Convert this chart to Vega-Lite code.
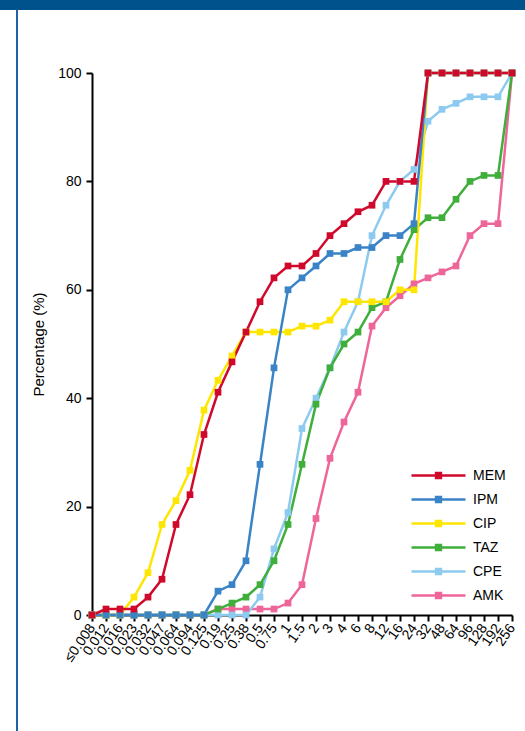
{
 "$schema": "https://vega.github.io/schema/vega-lite/v6.json",
 "padding": 0,
 "background": "white",
 "spacing": 0,
 "config": {"view": {"stroke": null}, "font": "Liberation Sans"},
 "vconcat": [
  {"width": 525, "height": 10, "view": {"fill": "#00528c", "stroke": null}, "data": {"values": []}, "mark": "rect"},
  {"spacing": 0, "hconcat": [
   {"width": 16, "height": 725, "data": {"values": []}, "mark": "rect"},
   {"width": 2, "height": 725, "view": {"fill": "#1f63a6", "stroke": null}, "data": {"values": []}, "mark": "rect"},
   {"width": 12.5, "height": 725, "data": {"values": []}, "mark": "rect"},
   {"spacing": 0, "vconcat": [
    {"width": 1, "height": 56, "data": {"values": []}, "mark": "rect"},
    {
     "width": 420, "height": 542,
     "data": {"values": [
{"c":"≤0.008","s":"AMK","v":0},{"c":"0.012","s":"AMK","v":0},{"c":"0.016","s":"AMK","v":0},{"c":"0.023","s":"AMK","v":0},{"c":"0.032","s":"AMK","v":0},{"c":"0.047","s":"AMK","v":0},{"c":"0.064","s":"AMK","v":0},{"c":"0.094","s":"AMK","v":0},{"c":"0.125","s":"AMK","v":0},{"c":"0.19","s":"AMK","v":1.1},{"c":"0.25","s":"AMK","v":1.1},{"c":"0.38","s":"AMK","v":1.1},{"c":"0.5","s":"AMK","v":1.1},{"c":"0.75","s":"AMK","v":1.1},{"c":"1","s":"AMK","v":2.2},{"c":"1.5","s":"AMK","v":5.6},{"c":"2","s":"AMK","v":17.8},{"c":"3","s":"AMK","v":28.9},{"c":"4","s":"AMK","v":35.6},{"c":"6","s":"AMK","v":41.1},{"c":"8","s":"AMK","v":53.3},{"c":"12","s":"AMK","v":56.7},{"c":"16","s":"AMK","v":58.9},{"c":"24","s":"AMK","v":61.1},{"c":"32","s":"AMK","v":62.2},{"c":"48","s":"AMK","v":63.3},{"c":"64","s":"AMK","v":64.4},{"c":"96","s":"AMK","v":70},{"c":"128","s":"AMK","v":72.2},{"c":"192","s":"AMK","v":72.2},{"c":"256","s":"AMK","v":100},
{"c":"≤0.008","s":"CPE","v":0},{"c":"0.012","s":"CPE","v":0},{"c":"0.016","s":"CPE","v":0},{"c":"0.023","s":"CPE","v":0},{"c":"0.032","s":"CPE","v":0},{"c":"0.047","s":"CPE","v":0},{"c":"0.064","s":"CPE","v":0},{"c":"0.094","s":"CPE","v":0},{"c":"0.125","s":"CPE","v":0},{"c":"0.19","s":"CPE","v":0},{"c":"0.25","s":"CPE","v":0},{"c":"0.38","s":"CPE","v":0},{"c":"0.5","s":"CPE","v":3.3},{"c":"0.75","s":"CPE","v":12.2},{"c":"1","s":"CPE","v":18.9},{"c":"1.5","s":"CPE","v":34.4},{"c":"2","s":"CPE","v":40},{"c":"3","s":"CPE","v":45.6},{"c":"4","s":"CPE","v":52.2},{"c":"6","s":"CPE","v":57.8},{"c":"8","s":"CPE","v":70},{"c":"12","s":"CPE","v":75.6},{"c":"16","s":"CPE","v":80},{"c":"24","s":"CPE","v":82.2},{"c":"32","s":"CPE","v":91.1},{"c":"48","s":"CPE","v":93.3},{"c":"64","s":"CPE","v":94.4},{"c":"96","s":"CPE","v":95.6},{"c":"128","s":"CPE","v":95.6},{"c":"192","s":"CPE","v":95.6},{"c":"256","s":"CPE","v":100},
{"c":"≤0.008","s":"TAZ","v":0},{"c":"0.012","s":"TAZ","v":0},{"c":"0.016","s":"TAZ","v":0},{"c":"0.023","s":"TAZ","v":0},{"c":"0.032","s":"TAZ","v":0},{"c":"0.047","s":"TAZ","v":0},{"c":"0.064","s":"TAZ","v":0},{"c":"0.094","s":"TAZ","v":0},{"c":"0.125","s":"TAZ","v":0},{"c":"0.19","s":"TAZ","v":1.1},{"c":"0.25","s":"TAZ","v":2.2},{"c":"0.38","s":"TAZ","v":3.3},{"c":"0.5","s":"TAZ","v":5.6},{"c":"0.75","s":"TAZ","v":10},{"c":"1","s":"TAZ","v":16.7},{"c":"1.5","s":"TAZ","v":27.8},{"c":"2","s":"TAZ","v":38.9},{"c":"3","s":"TAZ","v":45.6},{"c":"4","s":"TAZ","v":50},{"c":"6","s":"TAZ","v":52.2},{"c":"8","s":"TAZ","v":56.7},{"c":"12","s":"TAZ","v":57.8},{"c":"16","s":"TAZ","v":65.6},{"c":"24","s":"TAZ","v":71.1},{"c":"32","s":"TAZ","v":73.3},{"c":"48","s":"TAZ","v":73.3},{"c":"64","s":"TAZ","v":76.7},{"c":"96","s":"TAZ","v":80},{"c":"128","s":"TAZ","v":81.1},{"c":"192","s":"TAZ","v":81.1},{"c":"256","s":"TAZ","v":100},
{"c":"≤0.008","s":"CIP","v":0},{"c":"0.012","s":"CIP","v":0},{"c":"0.016","s":"CIP","v":0},{"c":"0.023","s":"CIP","v":3.3},{"c":"0.032","s":"CIP","v":7.8},{"c":"0.047","s":"CIP","v":16.7},{"c":"0.064","s":"CIP","v":21.1},{"c":"0.094","s":"CIP","v":26.7},{"c":"0.125","s":"CIP","v":37.8},{"c":"0.19","s":"CIP","v":43.3},{"c":"0.25","s":"CIP","v":47.8},{"c":"0.38","s":"CIP","v":52.2},{"c":"0.5","s":"CIP","v":52.2},{"c":"0.75","s":"CIP","v":52.2},{"c":"1","s":"CIP","v":52.2},{"c":"1.5","s":"CIP","v":53.3},{"c":"2","s":"CIP","v":53.3},{"c":"3","s":"CIP","v":54.4},{"c":"4","s":"CIP","v":57.8},{"c":"6","s":"CIP","v":57.8},{"c":"8","s":"CIP","v":57.8},{"c":"12","s":"CIP","v":57.8},{"c":"16","s":"CIP","v":60},{"c":"24","s":"CIP","v":60},{"c":"32","s":"CIP","v":100},{"c":"48","s":"CIP","v":100},{"c":"64","s":"CIP","v":100},{"c":"96","s":"CIP","v":100},{"c":"128","s":"CIP","v":100},{"c":"192","s":"CIP","v":100},{"c":"256","s":"CIP","v":100},
{"c":"≤0.008","s":"IPM","v":0},{"c":"0.012","s":"IPM","v":0},{"c":"0.016","s":"IPM","v":0},{"c":"0.023","s":"IPM","v":0},{"c":"0.032","s":"IPM","v":0},{"c":"0.047","s":"IPM","v":0},{"c":"0.064","s":"IPM","v":0},{"c":"0.094","s":"IPM","v":0},{"c":"0.125","s":"IPM","v":0},{"c":"0.19","s":"IPM","v":4.4},{"c":"0.25","s":"IPM","v":5.6},{"c":"0.38","s":"IPM","v":10},{"c":"0.5","s":"IPM","v":27.8},{"c":"0.75","s":"IPM","v":45.6},{"c":"1","s":"IPM","v":60},{"c":"1.5","s":"IPM","v":62.2},{"c":"2","s":"IPM","v":64.4},{"c":"3","s":"IPM","v":66.7},{"c":"4","s":"IPM","v":66.7},{"c":"6","s":"IPM","v":67.8},{"c":"8","s":"IPM","v":67.8},{"c":"12","s":"IPM","v":70},{"c":"16","s":"IPM","v":70},{"c":"24","s":"IPM","v":72.2},{"c":"32","s":"IPM","v":100},{"c":"48","s":"IPM","v":100},{"c":"64","s":"IPM","v":100},{"c":"96","s":"IPM","v":100},{"c":"128","s":"IPM","v":100},{"c":"192","s":"IPM","v":100},{"c":"256","s":"IPM","v":100},
{"c":"≤0.008","s":"MEM","v":0},{"c":"0.012","s":"MEM","v":1.1},{"c":"0.016","s":"MEM","v":1.1},{"c":"0.023","s":"MEM","v":1.1},{"c":"0.032","s":"MEM","v":3.3},{"c":"0.047","s":"MEM","v":6.6},{"c":"0.064","s":"MEM","v":16.7},{"c":"0.094","s":"MEM","v":22.2},{"c":"0.125","s":"MEM","v":33.3},{"c":"0.19","s":"MEM","v":41.1},{"c":"0.25","s":"MEM","v":46.7},{"c":"0.38","s":"MEM","v":52.2},{"c":"0.5","s":"MEM","v":57.8},{"c":"0.75","s":"MEM","v":62.2},{"c":"1","s":"MEM","v":64.4},{"c":"1.5","s":"MEM","v":64.4},{"c":"2","s":"MEM","v":66.7},{"c":"3","s":"MEM","v":70},{"c":"4","s":"MEM","v":72.2},{"c":"6","s":"MEM","v":74.4},{"c":"8","s":"MEM","v":75.6},{"c":"12","s":"MEM","v":80},{"c":"16","s":"MEM","v":80},{"c":"24","s":"MEM","v":80},{"c":"32","s":"MEM","v":100},{"c":"48","s":"MEM","v":100},{"c":"64","s":"MEM","v":100},{"c":"96","s":"MEM","v":100},{"c":"128","s":"MEM","v":100},{"c":"192","s":"MEM","v":100},{"c":"256","s":"MEM","v":100}
     ]},
     "mark": {"type": "line", "strokeWidth": 2.5, "point": {"shape": "square", "size": 45, "filled": true, "opacity": 1}},
     "encoding": {
      "x": {"field": "c", "type": "ordinal",
       "sort": ["≤0.008","0.012","0.016","0.023","0.032","0.047","0.064","0.094","0.125","0.19","0.25","0.38","0.5","0.75","1","1.5","2","3","4","6","8","12","16","24","32","48","64","96","128","192","256"],
       "scale": {"type": "point", "padding": 0},
       "axis": {"title": null, "labelAngle": -55, "labelAlign": "right", "labelBaseline": "middle", "labelFontSize": 14, "labelColor": "black", "labelPadding": 4, "domainColor": "black", "domainWidth": 2, "tickColor": "black", "tickWidth": 2, "tickSize": 6, "grid": false}},
      "y": {"field": "v", "type": "quantitative",
       "scale": {"domain": [0, 100], "nice": false},
       "axis": {"title": "Percentage (%)", "values": [0, 20, 40, 60, 80, 100], "titleFontSize": 15, "titleFontWeight": "normal", "titleColor": "black", "titlePadding": 11, "labelFontSize": 14, "labelColor": "black", "labelPadding": 5, "domainColor": "black", "domainWidth": 2, "tickColor": "black", "tickWidth": 2, "tickSize": 6, "grid": false}},
      "color": {"field": "s", "type": "nominal",
       "scale": {"domain": ["MEM", "IPM", "CIP", "TAZ", "CPE", "AMK"], "range": ["#d0092c", "#3a83c6", "#ffe600", "#3fae3a", "#8dcaf0", "#ee6699"]},
       "legend": {"title": null, "orient": "none", "legendX": 428, "legendY": 465,
        "symbolType": "M-3,0L3,0M-0.27,-0.27L0.27,-0.27L0.27,0.27L-0.27,0.27Z",
        "symbolSize": 324, "symbolStrokeWidth": 2.5,
        "labelFontSize": 14, "labelColor": "black", "labelOffset": 24, "rowPadding": 6,
        "encode": {"symbols": {"update": {"fill": {"scale": "color", "field": "value"}, "stroke": {"scale": "color", "field": "value"}, "opacity": {"value": 1}}}}}}
     }
    }
   ]}
  ]}
 ]
}
